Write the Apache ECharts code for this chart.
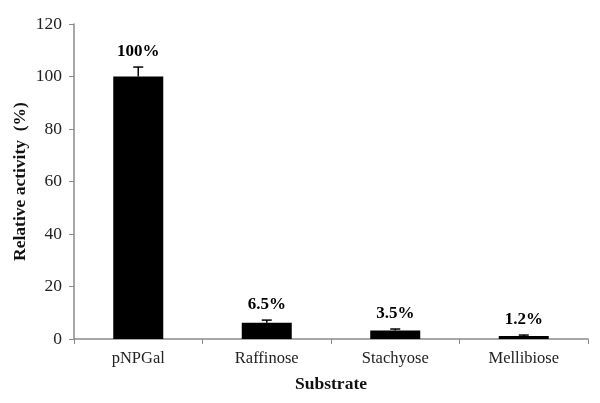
<!DOCTYPE html>
<html><head><meta charset="utf-8">
<script src="https://cdn.jsdelivr.net/npm/echarts@6/dist/echarts.min.js"></script>
<style>html,body{margin:0;padding:0;background:#fff}#c{width:600px;height:403px}</style>
</head><body><div id="c"></div>
<script>
var categories = ['pNPGal', 'Raffinose', 'Stachyose', 'Mellibiose'];
var values = [100, 6.2, 3.2, 1.1];
var errors = [3.6, 1.0, 0.6, 0.4];
var valueLabels = ['100%', '6.5%', '3.5%', '1.2%'];
var yTicks = [0, 20, 40, 60, 80, 100, 120];

var chart = echarts.init(document.getElementById('c'));
var serif = '"Liberation Serif","Times New Roman",serif';
chart.setOption({
  animation: false,
  grid: {left: 74, right: 12, top: 24, bottom: 64, containLabel: false, outerBoundsMode: 'none'},
  xAxis: {
    type: 'category', data: categories,
    axisLine: {lineStyle: {color: '#8a8a8a', width: 1.5}},
    axisTick: {show: true, length: 5, lineStyle: {color: '#8a8a8a'}},
    axisLabel: {color: '#222', fontFamily: serif, fontSize: 16.5, margin: 11},
    name: 'Substrate', nameLocation: 'middle', nameGap: 36, nameMoveOverlap: false,
    nameTextStyle: {fontFamily: serif, fontWeight: 'bold', fontSize: 17.5, color: '#111'}
  },
  yAxis: {
    type: 'value', min: yTicks[0], max: yTicks[yTicks.length - 1], interval: 20,
    splitLine: {show: false},
    axisLine: {show: true, lineStyle: {color: '#8a8a8a', width: 1.5}},
    axisTick: {show: true, length: 5, lineStyle: {color: '#8a8a8a'}},
    axisLabel: {color: '#222', fontFamily: serif, fontSize: 17.5, margin: 12},
    name: 'Relative activity  (%)', nameLocation: 'middle', nameGap: 45, nameRotate: 90,
    nameMoveOverlap: false,
    nameTextStyle: {fontFamily: serif, fontWeight: 'bold', fontSize: 17.5, color: '#111'}
  },
  series: [{
    type: 'bar', data: values, barWidth: 50,
    itemStyle: {color: '#000'}
  }, {
    type: 'custom',
    data: values.map(function (v, i) { return [i, v, v + errors[i], valueLabels[i]]; }),
    renderItem: function (params, api) {
      var x = api.coord([api.value(0), 0])[0];
      var yb = api.coord([0, api.value(1)])[1];
      var yt = api.coord([0, api.value(2)])[1];
      return {type: 'group', children: [
        {type: 'line', shape: {x1: x, y1: yb, x2: x, y2: yt}, style: {stroke: '#000', lineWidth: 1.5}},
        {type: 'line', shape: {x1: x - 5, y1: yt, x2: x + 5, y2: yt}, style: {stroke: '#000', lineWidth: 1.5}},
        {type: 'text', style: {text: valueLabels[params.dataIndex], x: x, y: yt - 15,
          textAlign: 'center', textVerticalAlign: 'middle',
          font: 'bold 17px ' + serif, fill: '#000'}}
      ]};
    },
    z: 5
  }]
});
</script></body></html>
